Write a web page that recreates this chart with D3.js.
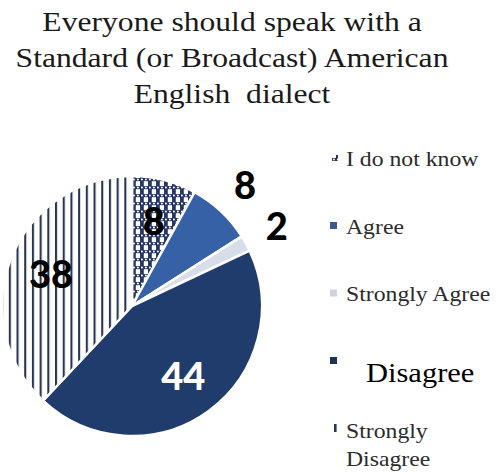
<!DOCTYPE html>
<html>
<head>
<meta charset="utf-8">
<script src="https://cdn.jsdelivr.net/npm/d3@7"></script>
<style>
  html, body { margin: 0; padding: 0; background: #ffffff; }
  svg { display: block; }
  .serif { font-family: "Liberation Serif", "Times New Roman", serif; }
  .num { font-family: Lato, "Liberation Sans", sans-serif; font-weight: 900; }
</style>
</head>
<body>
<svg id="chart" width="497" height="473"></svg>
<script>
// Survey responses, in the order they run clockwise from 12 o'clock
const categories = ["I do not know", "Agree", "Strongly Agree", "Disagree", "Strongly Disagree"];
const values = [8, 8, 2, 44, 38];
const titleLines = ["Everyone should speak with a", "Standard (or Broadcast) American", "English  dialect"];
const legendLines = [["I do not know"], ["Agree"], ["Strongly Agree"], ["Disagree"], ["Strongly", "Disagree"]];

const W = 497, H = 473;
const TEXT_STRETCH = 1.13;   // serif text is set slightly wide
const svg = d3.select("#chart");
const defs = svg.append("defs");

// Vertical pin-stripe fill
const stripes = defs.append("pattern")
  .attr("id", "stripes").attr("patternUnits", "userSpaceOnUse")
  .attr("width", 7.7).attr("height", 10);
stripes.append("rect").attr("width", 7.7).attr("height", 10).attr("fill", "#ffffff");
stripes.append("rect").attr("x", 0).attr("width", 2.1).attr("height", 10).attr("fill", "#2a3651");

// Woven check fill: vertical bars crossed by beaded bands
const weave = defs.append("pattern")
  .attr("id", "weave").attr("patternUnits", "userSpaceOnUse")
  .attr("width", 8).attr("height", 8);
weave.append("rect").attr("width", 8).attr("height", 8).attr("fill", "#ffffff");
weave.append("rect").attr("x", 0).attr("width", 3.8).attr("height", 8).attr("fill", "#263760");
weave.append("rect").attr("y", 0).attr("width", 8).attr("height", 3.2).attr("fill", "#263760");
[1.9, 5.9].forEach(cx => weave.append("circle")
  .attr("cx", cx).attr("cy", 1.6).attr("r", 1.0).attr("fill", "#ffffff"));

const fills = d3.scaleOrdinal()
  .domain(categories)
  .range(["url(#weave)", "#3761a6", "#d8dee9", "#1f3c6d", "url(#stripes)"]);
const swatchColors = d3.scaleOrdinal()
  .domain(categories)
  .range(["url(#weave)", "#3b5b8e", "#cfd3e0", "#1f3350", "#2a3651"]);

// Title
svg.append("g").selectAll("text")
  .data(titleLines).join("text")
  .attr("class", "serif")
  .attr("transform", (d, i) => `translate(232,${31 + i * 36}) scale(${TEXT_STRETCH},1)`)
  .attr("text-anchor", "middle")
  .attr("font-size", 28).attr("fill", "#1a1a1a")
  .style("white-space", "pre")
  .text(d => d);

// Pie
const cx = 132, cy = 306, R = 130;
const pie = d3.pie().sort(null).value(d => d.value);
const arcs = pie(categories.map((c, i) => ({ cat: c, value: values[i] })));
const arc = d3.arc().innerRadius(0).outerRadius(R);

const g = svg.append("g").attr("transform", `translate(${cx},${cy})`);
g.selectAll("path")
  .data(arcs).join("path")
  .attr("d", arc)
  .attr("fill", d => fills(d.data.cat))
  .attr("stroke", "#ffffff")
  .attr("stroke-width", 2.5)
  .attr("stroke-linejoin", "round");

// Value labels: large slices inside, small slices just outside the rim
const inner = d3.arc().innerRadius(R * 0.67).outerRadius(R * 0.67);
const outer = d3.arc().innerRadius(R * 1.27).outerRadius(R * 1.27);
g.selectAll("text.val")
  .data(arcs).join("text")
  .attr("class", "val num")
  .attr("transform", (d, i) => {
    const p = (i === 1 || i === 2) ? outer.centroid(d) : inner.centroid(d);
    return `translate(${p[0]},${p[1]})`;
  })
  .attr("text-anchor", "middle")
  .attr("dy", "0.36em")
  .attr("font-size", 38)
  .attr("fill", d => d.data.cat === "Disagree" ? "#ffffff" : "#000000")
  .text(d => d.data.value);

// Legend
const legendY = d3.scalePoint().domain(categories).range([158, 428]);
const lg = svg.append("g");
categories.forEach((c, i) => {
  const y = legendY(c);
  const row = lg.append("g").attr("transform", `translate(0,${y})`);
  if (c === "Strongly Disagree") {
    row.append("rect").attr("x", 334).attr("y", -4).attr("width", 2.6).attr("height", 8)
      .attr("fill", swatchColors(c));
  } else if (c === "I do not know") {
    row.append("rect").attr("x", 332).attr("y", -3).attr("width", 6).attr("height", 6)
      .attr("fill", swatchColors(c));
  } else {
    row.append("rect").attr("x", 330).attr("y", -3.5).attr("width", 7).attr("height", 7)
      .attr("fill", swatchColors(c));
  }
  const big = c === "Disagree";
  const tx = big ? 366 : 346;
  const ty = big ? 21 : (c === "Strongly Disagree" ? 10 : 8);
  const t = row.append("text")
    .attr("class", "serif")
    .attr("transform", `translate(${tx},${ty}) scale(${TEXT_STRETCH},1)`)
    .attr("font-size", big ? 27 : 21)
    .attr("fill", big ? "#000000" : "#2b2b2b");
  legendLines[i].forEach((line, j) => {
    t.append("tspan").attr("x", 0).attr("dy", j === 0 ? 0 : 28).text(line);
  });
});
</script>
</body>
</html>
